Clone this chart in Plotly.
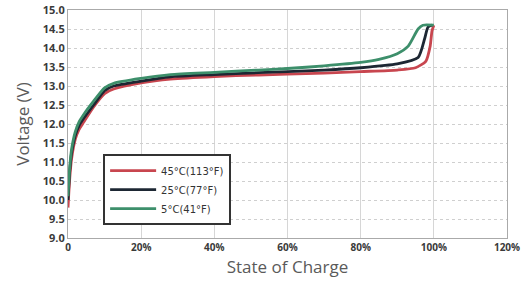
import plotly.graph_objects as go

# State of charge (%) and voltage (V) for each temperature
soc_45 = [0, 0.5, 1, 2, 3, 4.3, 7, 10, 12.5, 20, 28, 40, 52, 60, 70, 80, 90, 95, 97.8, 99, 99.5, 100]
v_45 = [9.8, 10.6, 11.1, 11.6, 11.85, 12.05, 12.45, 12.8, 12.92, 13.08, 13.18, 13.25, 13.29, 13.31, 13.34, 13.38, 13.42, 13.48, 13.65, 14.05, 14.45, 14.6]

soc_25 = [0, 0.5, 1, 2, 3, 4.3, 7, 10, 12.5, 20, 28, 40, 52, 60, 70, 80, 90, 95.7, 97.5, 98.4, 99.5]
v_25 = [10.0, 10.8, 11.25, 11.7, 11.95, 12.15, 12.5, 12.88, 13.0, 13.13, 13.24, 13.3, 13.35, 13.38, 13.42, 13.48, 13.58, 13.75, 14.25, 14.55, 14.6]

soc_5 = [0, 0.5, 1, 2, 3, 4.3, 7, 10, 12.5, 20, 28, 40, 52, 60, 70, 80, 85, 90, 93, 95.7, 97, 100]
v_5 = [10.1, 10.9, 11.35, 11.8, 12.05, 12.25, 12.6, 12.95, 13.07, 13.2, 13.3, 13.36, 13.42, 13.46, 13.53, 13.62, 13.7, 13.85, 14.05, 14.5, 14.6, 14.6]

series_names = ["45°C(113°F)", "25°C(77°F)", "5°C(41°F)"]
colors = ["#c8464f", "#1d2733", "#3d8f6b"]

x_ticks = [0, 20, 40, 60, 80, 100, 120]
x_tick_labels = ["0", "20%", "40%", "60%", "80%", "100%", "120%"]
y_ticks = [9.0, 9.5, 10.0, 10.5, 11.0, 11.5, 12.0, 12.5, 13.0, 13.5, 14.0, 14.5, 15.0]
y_tick_labels = [f"{v:.1f}" for v in y_ticks]

fig = go.Figure()
for xs, ys, name, col in zip([soc_45, soc_25, soc_5], [v_45, v_25, v_5], series_names, colors):
    fig.add_trace(go.Scatter(x=xs, y=ys, mode="lines", name=name,
                             line=dict(color=col, width=2.8, shape="spline", smoothing=0.6)))

xtickfont = dict(family="Open Sans", size=10, color="#3a3a3a", weight=700)
ytickfont = dict(family="Open Sans", size=11, color="#3a3a3a", weight=700)

fig.update_layout(
    width=527, height=286,
    margin=dict(l=68, r=20, t=10, b=48),
    paper_bgcolor="white", plot_bgcolor="white",
    font=dict(family="Open Sans", color="#555"),
    showlegend=True,
    legend=dict(x=0.08, y=0.368, xanchor="left", yanchor="top",
                bgcolor="white", bordercolor="#333", borderwidth=2,
                font=dict(family="DejaVu Sans", size=10, color="#333"),
                itemwidth=46, tracegroupgap=0),
    xaxis=dict(range=[0, 120], tickvals=x_ticks, ticktext=x_tick_labels,
               tickfont=xtickfont, showgrid=True, gridcolor="#d6d6d6", gridwidth=1,
               showline=True, linecolor="#aaa", linewidth=1, mirror=True,
               zeroline=False, ticks="", automargin=False,
               title=dict(text="State of Charge", font=dict(size=17, color="#5a5a5a"), standoff=8)),
    yaxis=dict(range=[9, 15], tickvals=y_ticks, ticktext=y_tick_labels,
               tickfont=ytickfont, showgrid=True, gridcolor="#cfcfcf", gridwidth=1, griddash="dot",
               showline=True, linecolor="#aaa", linewidth=1, mirror=True,
               zeroline=False, ticks="", automargin=False,
               title=dict(text="Voltage (V)", font=dict(size=17, color="#5a5a5a"), standoff=8)),
)

fig.write_html("out.html", config={"displayModeBar": False},
               post_script="document.body.style.margin='0';")
